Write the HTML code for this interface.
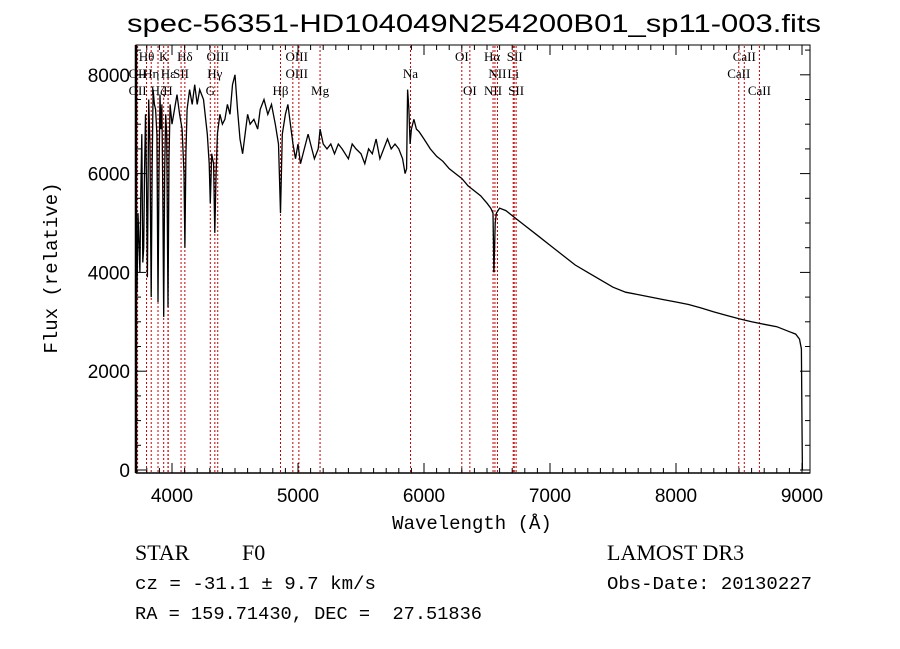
<!DOCTYPE html>
<html><head><meta charset="utf-8"><style>
body{margin:0;background:#fff;width:900px;height:649px;overflow:hidden}
svg{display:block}
.lb{font-family:"Liberation Serif",serif;font-size:13px;fill:#000}
.tk{font-family:"Liberation Sans",sans-serif;font-size:19px;fill:#000}
.mono{font-family:"Liberation Mono",monospace;fill:#000}
</style></head><body>
<svg id="chart" width="900" height="649" viewBox="0 0 900 649" xmlns="http://www.w3.org/2000/svg">
<rect width="900" height="649" fill="#fff"/>
<text x="474" y="32" text-anchor="middle" font-family="Liberation Sans, sans-serif" font-size="25" textLength="694" lengthAdjust="spacingAndGlyphs">spec-56351-HD104049N254200B01_sp11-003.fits</text>
<g id="lines"></g>
<g id="labels"></g>
<path id="spec" fill="none" stroke="#000" stroke-width="1.3"/>
<rect x="136" y="45" width="674" height="428" fill="none" stroke="#000" stroke-width="1"/>
<line x1="136" y1="45" x2="136" y2="473" stroke="#000" stroke-width="2.5"/>
<line x1="136" y1="473" x2="810" y2="473" stroke="#000" stroke-width="1.5"/>
<g id="axes"></g>
<text x="472" y="529" text-anchor="middle" class="mono" font-size="19">Wavelength (Å)</text>
<text transform="translate(57,268) rotate(-90)" text-anchor="middle" class="mono" font-size="19">Flux (relative)</text>
<text x="135" y="560" font-family="Liberation Serif, serif" font-size="22">STAR</text>
<text x="242" y="560" font-family="Liberation Serif, serif" font-size="22">F0</text>
<text x="135" y="589" class="mono" font-size="18.5" textLength="241" lengthAdjust="spacingAndGlyphs">cz = -31.1 ± 9.7 km/s</text>
<text x="135" y="619" class="mono" font-size="18.5" textLength="347" lengthAdjust="spacingAndGlyphs" xml:space="preserve">RA = 159.71430, DEC =  27.51836</text>
<text x="607" y="560" font-family="Liberation Serif, serif" font-size="22">LAMOST DR3</text>
<text x="607" y="589" class="mono" font-size="18.5" textLength="205" lengthAdjust="spacingAndGlyphs">Obs-Date: 20130227</text>
</svg>
<script>
const wavelengths=[3712,3716,3722,3730,3738,3745,3752,3760,3768,3775,3782,3790,3798,3805,3815,3825,3835,3843,3850,3860,3870,3880,3889,3897,3905,3912,3920,3927,3934,3942,3950,3958,3968,3976,3985,4000,4020,4040,4060,4080,4095,4102,4110,4120,4140,4160,4180,4200,4220,4250,4280,4295,4304,4315,4330,4340,4350,4360,4380,4400,4420,4440,4460,4480,4500,4520,4540,4560,4580,4600,4620,4650,4680,4700,4730,4760,4790,4820,4845,4861,4875,4900,4920,4940,4960,4980,5000,5020,5050,5080,5100,5130,5160,5175,5200,5230,5260,5290,5320,5350,5400,5430,5460,5500,5530,5560,5590,5620,5650,5680,5710,5740,5770,5800,5830,5850,5862,5870,5880,5890,5900,5920,5940,5960,6000,6050,6100,6150,6200,6250,6300,6350,6400,6450,6500,6530,6548,6555,6560,6565,6575,6600,6650,6700,6800,6900,7000,7100,7200,7300,7400,7500,7600,7700,7800,7900,8000,8100,8200,8300,8400,8500,8600,8700,8800,8900,8950,8980,8995,9000,9003];
const fluxes=[0,4300,3600,5200,4600,4000,5600,6800,4200,4500,6000,7200,5800,3900,7500,6600,3500,6200,7700,7400,7300,6800,3400,6000,7600,6900,7400,5600,3100,6100,7200,6800,3300,6300,7400,7000,7300,7600,7200,6900,6000,4500,6400,7300,7700,7400,7800,7400,7700,7500,6800,6200,5400,6400,6200,4800,6000,6800,7200,7000,7100,7400,7200,7800,8000,7300,6700,6400,6800,7200,7000,7100,6900,7300,7500,7200,7400,7000,6600,5200,6800,7200,7400,7000,6600,6300,6600,6200,6500,6800,6600,6300,6500,6900,6600,6500,6600,6400,6600,6500,6300,6600,6500,6400,6200,6500,6400,6700,6300,6500,6700,6500,6600,6500,6300,6000,6100,7700,7300,6600,6900,7100,6900,6850,6700,6500,6350,6250,6100,6000,5900,5750,5650,5550,5400,5300,5200,4000,4500,5000,5200,5300,5250,5150,4950,4750,4550,4350,4150,4000,3850,3700,3600,3550,3500,3450,3400,3350,3280,3200,3130,3060,3000,2950,2900,2800,2750,2650,2450,900,0];
const lineWaves=[3727,3798,3835,3889,3934,3968,3970,4072,4102,4304,4340,4363,4861,4959,5007,5175,5893,6300,6364,6548,6563,6583,6708,6716,6731,8498,8542,8662];
const labelText=["Hθ","K","Hδ","OIII","OIII","OI","Hα","SII","CaII","OII","Hη","Hε","SII","Hγ","OIII","Na","NII","Li","CaII","OII","Hζ","H","G","Hβ","Mg","OI","NII","SII","CaII"];
const labelWave=[3798,3934,4102,4363,4990,6300,6540,6720,8542,3727,3835,3970,4072,4340,4990,5893,6583,6708,8498,3727,3889,3968,4304,4861,5175,6364,6548,6731,8662];
const labelRow=[0,0,0,0,0,0,0,0,0,1,1,1,1,1,1,1,1,1,1,2,2,2,2,2,2,2,2,2,2];
const xTicks=[4000,5000,6000,7000,8000,9000];
const yTicks=[0,2000,4000,6000,8000];
const NS="http://www.w3.org/2000/svg";
const X=w=>172+(w-4000)*0.126;
const Y=f=>470-f*0.0494;
function mk(tag,attrs,parent){const e=document.createElementNS(NS,tag);for(const k in attrs)e.setAttribute(k,attrs[k]);parent.appendChild(e);return e;}
const gl=document.getElementById('lines'),glb=document.getElementById('labels'),ga=document.getElementById('axes');
lineWaves.forEach(w=>{const l=mk('line',{x1:X(w),x2:X(w),y1:46,y2:472,stroke:'#c00000','stroke-width':1,'stroke-dasharray':'2,2'},gl);

});
labelText.forEach((t,i)=>{const e=mk('text',{x:X(labelWave[i]),y:61+labelRow[i]*17,'text-anchor':'middle',class:'lb'},glb);e.textContent=t;

});
let d='';wavelengths.forEach((w,i)=>{d+=(i?'L':'M')+X(w).toFixed(1)+','+Y(fluxes[i]).toFixed(1);});
document.getElementById('spec').setAttribute('d',d);
for(let w=3800;w<=9000;w+=100){const maj=w%1000===0,x=X(w);
mk('line',{x1:x,x2:x,y1:473,y2:473-(maj?10:5),stroke:'#000'},ga);mk('line',{x1:x,x2:x,y1:45,y2:45+(maj?10:5),stroke:'#000'},ga);}
xTicks.forEach(w=>{const t=mk('text',{x:X(w),y:502,'text-anchor':'middle',class:'tk'},ga);t.textContent=w;

});
for(let f=0;f<=8500;f+=500){const maj=f%2000===0,y=Y(f);
mk('line',{x1:136,x2:136+(maj?10:5),y1:y,y2:y,stroke:'#000'},ga);mk('line',{x1:810,x2:810-(maj?10:5),y1:y,y2:y,stroke:'#000'},ga);}
yTicks.forEach(f=>{const t=mk('text',{x:130,y:Y(f)+7,'text-anchor':'end',class:'tk'},ga);t.textContent=f;

});
</script>
</body></html>
